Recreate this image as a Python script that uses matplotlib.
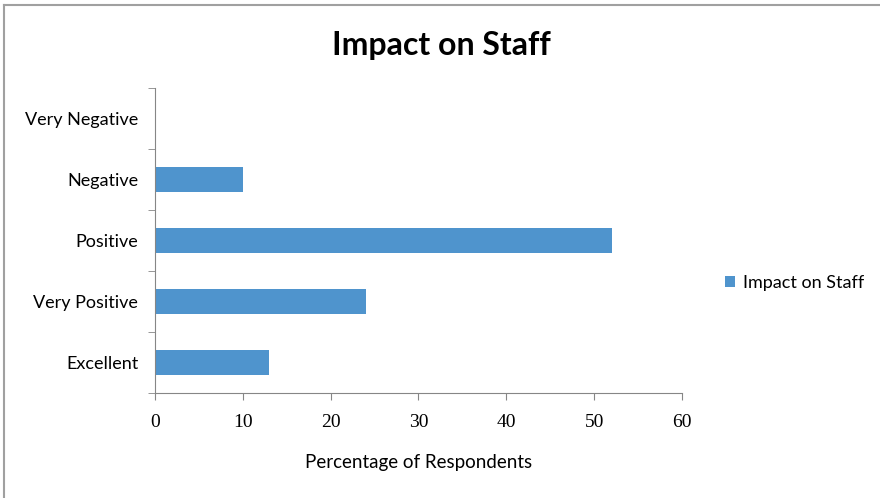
import matplotlib.pyplot as plt
import numpy as np
from matplotlib.lines import Line2D

categorias = ["Excellent", "Very Positive", "Positive", "Negative", "Very Negative"]
percentagens = [13, 24, 52, 10, 0]
serie_nome = "Impact on Staff"

cor_barra = "#4F94CD"
cor_eixo = "#868686"
fonte = "Lato"

fig = plt.figure(figsize=(8.8, 4.98), dpi=100)
ax = fig.add_axes([0.1761, 0.2108, 0.5989, 0.6125])

y = np.arange(len(categorias))
ax.barh(y, percentagens, height=0.4, color=cor_barra, label=serie_nome)

ax.set_xlim(0, 60)
ax.set_ylim(-0.5, len(categorias) - 0.5)
ax.set_xticks(np.arange(0, 61, 10))
ax.set_xticklabels([str(v) for v in range(0, 61, 10)],
                   fontfamily="Liberation Serif", fontsize=14)
ax.set_yticks(y)
ax.set_yticklabels(categorias, fontfamily=fonte, fontsize=13)
ax.set_yticks(np.arange(-0.5, len(categorias)), minor=True)
ax.tick_params(axis="y", which="major", length=0, pad=12)
ax.tick_params(axis="y", which="minor", length=5, color=cor_eixo, direction="out")
ax.tick_params(axis="x", length=5, color=cor_eixo, direction="out", pad=10)

for lado in ["top", "right"]:
    ax.spines[lado].set_visible(False)
for lado in ["left", "bottom"]:
    ax.spines[lado].set_color(cor_eixo)

ax.set_xlabel("Percentage of Respondents", fontfamily=fonte, fontsize=13.5,
              labelpad=17)
fig.text(0.501, 0.909, "Impact on Staff", ha="center", va="center",
         fontfamily=fonte, fontweight="bold", fontsize=23)

ax.legend(loc="center left", bbox_to_anchor=(1.05, 0.361), frameon=False,
          prop={"family": fonte, "size": 13}, handlelength=0.6,
          handleheight=0.6, handletextpad=0.4)

# moldura do grafico (so topo e esquerda visiveis)
fig.add_artist(Line2D([0.0045, 1.0], [0.99, 0.99], color="#A0A0A0", lw=1.5,
                      transform=fig.transFigure))
fig.add_artist(Line2D([0.0045, 0.0045], [0.0, 0.99], color="#A0A0A0", lw=1.5,
                      transform=fig.transFigure))

fig.savefig("out.png", dpi=100)
